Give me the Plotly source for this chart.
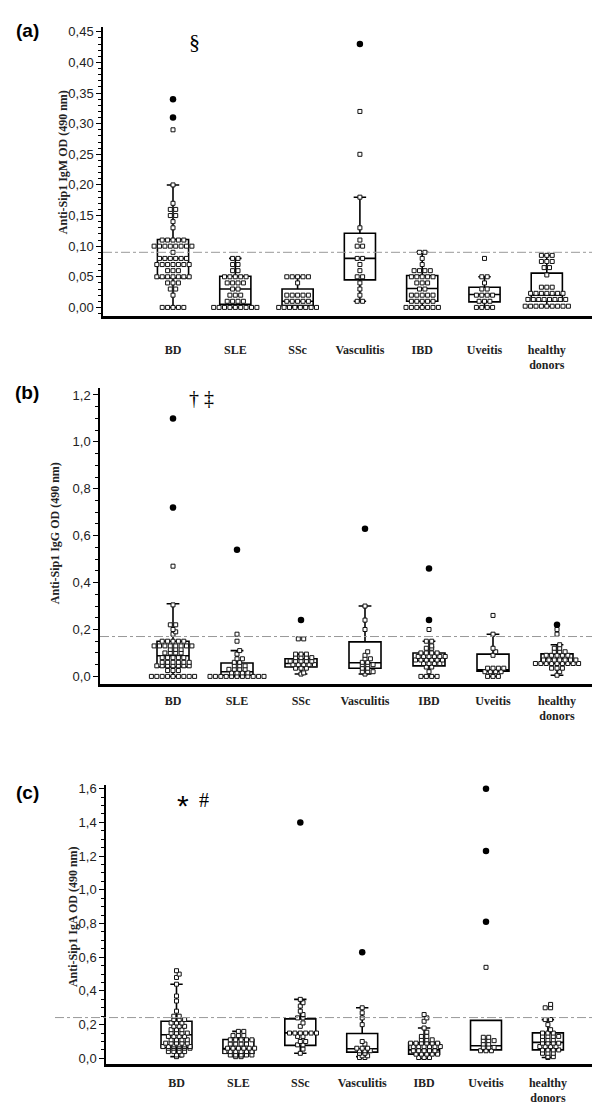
import plotly.graph_objects as go

# ---------------- data ----------------
categories = ["BD", "SLE", "SSc", "Vasculitis", "IBD", "Uveitis", "healthy donors"]
tick_labels = ["BD", "SLE", "SSc", "Vasculitis", "IBD", "Uveitis", "healthy<br>donors"]

# Panel (a) IgM: (value, count) pairs of open squares per group
igm_points = [
    [(0.29, 1), (0.20, 1), (0.17, 1), (0.16, 2), (0.15, 2), (0.14, 1), (0.13, 1), (0.11, 5), (0.10, 8),
     (0.09, 1), (0.08, 6), (0.07, 7), (0.06, 3), (0.05, 7), (0.04, 3), (0.03, 2), (0.02, 1), (0.00, 5)],
    [(0.08, 2), (0.07, 2), (0.06, 2), (0.05, 5), (0.04, 4), (0.03, 2), (0.02, 3), (0.01, 4), (0.00, 9)],
    [(0.05, 5), (0.04, 1), (0.02, 5), (0.01, 5), (0.00, 8)],
    [(0.32, 1), (0.25, 1), (0.18, 1), (0.13, 1), (0.11, 1), (0.10, 2), (0.08, 2), (0.07, 1), (0.06, 1),
     (0.05, 2), (0.04, 1), (0.03, 1), (0.02, 1), (0.01, 2)],
    [(0.09, 2), (0.08, 1), (0.07, 1), (0.06, 4), (0.05, 5), (0.04, 3), (0.03, 2), (0.02, 5), (0.01, 5), (0.00, 7)],
    [(0.08, 1), (0.05, 2), (0.04, 1), (0.03, 2), (0.02, 4), (0.01, 3), (0.00, 4)],
    [(0.085, 3), (0.075, 3), (0.065, 2), (0.053, 1), (0.033, 3), (0.023, 7), (0.013, 8), (0.002, 9)],
]
igm_far = [[0.34, 0.31], [], [], [0.43], [], [], []]
igm_q1 = [0.048, 0.005, 0.003, 0.045, 0.010, 0.009, 0.010]
igm_median = [0.080, 0.030, 0.010, 0.080, 0.031, 0.021, 0.020]
igm_q3 = [0.111, 0.051, 0.030, 0.121, 0.052, 0.033, 0.056]
igm_low = [0.00, 0.00, 0.00, 0.01, 0.00, 0.00, 0.002]
igm_high = [0.20, 0.08, 0.05, 0.18, 0.09, 0.05, 0.085]
igm_cutoff = 0.09

# Panel (b) IgG
igg_points = [
    [(0.47, 1), (0.305, 1), (0.22, 2), (0.20, 1), (0.19, 1), (0.18, 1), (0.15, 5), (0.13, 8), (0.115, 3),
     (0.10, 4), (0.08, 5), (0.06, 6), (0.045, 7), (0.025, 3), (0.0, 9)],
    [(0.18, 1), (0.15, 1), (0.11, 1), (0.095, 1), (0.075, 2), (0.06, 2), (0.045, 3), (0.03, 4), (0.015, 4), (0.0, 11)],
    [(0.16, 2), (0.095, 3), (0.08, 4), (0.065, 5), (0.05, 5), (0.035, 3), (0.015, 1), (0.01, 1)],
    [(0.30, 1), (0.24, 1), (0.20, 1), (0.105, 1), (0.09, 1), (0.075, 2), (0.06, 2), (0.05, 3), (0.035, 2),
     (0.02, 3), (0.01, 1)],
    [(0.20, 1), (0.15, 2), (0.13, 1), (0.12, 2), (0.10, 4), (0.085, 6), (0.07, 6), (0.055, 4), (0.04, 2),
     (0.02, 1), (0.0, 4)],
    [(0.26, 1), (0.18, 1), (0.12, 1), (0.105, 1), (0.09, 1), (0.035, 4), (0.02, 4), (0.0, 3)],
    [(0.20, 1), (0.18, 1), (0.135, 1), (0.12, 2), (0.105, 3), (0.09, 5), (0.07, 7), (0.055, 9), (0.035, 3),
     (0.02, 1), (0.005, 1)],
]
igg_far = [[1.10, 0.72], [0.54], [0.24], [0.63], [0.46, 0.24], [], [0.22]]
igg_q1 = [0.040, 0.005, 0.040, 0.035, 0.045, 0.022, 0.055]
igg_median = [0.088, 0.020, 0.055, 0.058, 0.068, 0.028, 0.075]
igg_q3 = [0.150, 0.057, 0.075, 0.147, 0.100, 0.095, 0.096]
igg_low = [0.00, 0.00, 0.01, 0.01, 0.00, 0.00, 0.005]
igg_high = [0.31, 0.11, 0.095, 0.30, 0.15, 0.18, 0.135]
igg_cutoff = 0.17

# Panel (c) IgA
iga_points = [
    [(0.52, 1), (0.50, 1), (0.48, 1), (0.44, 1), (0.37, 1), (0.34, 1), (0.28, 1), (0.25, 2), (0.23, 3),
     (0.21, 3), (0.19, 3), (0.17, 3), (0.15, 4), (0.13, 4), (0.11, 4), (0.09, 5), (0.08, 3), (0.07, 6),
     (0.06, 5), (0.04, 4), (0.02, 2), (0.01, 1)],
    [(0.16, 2), (0.135, 3), (0.11, 5), (0.085, 4), (0.06, 6), (0.04, 6), (0.02, 5), (0.01, 2)],
    [(0.35, 1), (0.33, 1), (0.31, 1), (0.28, 1), (0.26, 1), (0.24, 2), (0.21, 1), (0.19, 1), (0.15, 6),
     (0.13, 2), (0.10, 2), (0.08, 2), (0.055, 1), (0.03, 1)],
    [(0.30, 1), (0.27, 1), (0.24, 1), (0.20, 1), (0.10, 1), (0.085, 1), (0.06, 3), (0.045, 3), (0.03, 2),
     (0.015, 2), (0.005, 2)],
    [(0.26, 1), (0.24, 1), (0.22, 1), (0.18, 1), (0.155, 1), (0.13, 2), (0.11, 3), (0.09, 6), (0.07, 6),
     (0.045, 5), (0.025, 5), (0.005, 3)],
    [(0.54, 1), (0.125, 2), (0.105, 3), (0.085, 2), (0.065, 3), (0.045, 3)],
    [(0.32, 1), (0.30, 2), (0.23, 2), (0.20, 1), (0.17, 1), (0.15, 3), (0.13, 4), (0.11, 3), (0.09, 4),
     (0.07, 4), (0.05, 4), (0.03, 3), (0.01, 2), (0.005, 1)],
]
iga_far = [[], [], [1.40], [0.63], [], [1.60, 1.23, 0.81], []]
iga_q1 = [0.063, 0.030, 0.077, 0.037, 0.025, 0.050, 0.050]
iga_median = [0.140, 0.058, 0.151, 0.057, 0.050, 0.075, 0.095]
iga_q3 = [0.220, 0.112, 0.234, 0.147, 0.092, 0.225, 0.151]
iga_low = [0.01, 0.01, 0.03, 0.01, 0.00, 0.045, 0.005]
iga_high = [0.44, 0.16, 0.35, 0.30, 0.18, 0.225, 0.23]
iga_cutoff = 0.242

panels = [
    dict(points=igm_points, far=igm_far, q1=igm_q1, med=igm_median, q3=igm_q3, lo=igm_low, hi=igm_high,
         cut=igm_cutoff, title="Anti-Sip1 IgM OD (490 nm)", label="(a)"),
    dict(points=igg_points, far=igg_far, q1=igg_q1, med=igg_median, q3=igg_q3, lo=igg_low, hi=igg_high,
         cut=igg_cutoff, title="Anti-Sip1 IgG OD (490 nm)", label="(b)"),
    dict(points=iga_points, far=iga_far, q1=iga_q1, med=iga_median, q3=iga_q3, lo=iga_low, hi=iga_high,
         cut=iga_cutoff, title="Anti-Sip1 IgA OD (490 nm)", label="(c)"),
]

# ---------------- layout geometry (pixels) ----------------
W, H = 600, 1116
geo = [
    dict(xl=95, xr=587, yt=15, yb=306, yr=[-0.0146, 0.458], dt=0.05, mn=0.01, fmt=".2f", sp=62.3, c0=165,
         standoff=20, ytit_x=55, ytit_y=151, lab_y=19, cut_x0=95),
    dict(xl=92, xr=587, yt=378, yb=676, yr=[-0.034, 1.23], dt=0.2, mn=0.05, fmt=".1f", sp=64.0, c0=165,
         standoff=3, ytit_x=47, ytit_y=524, lab_y=383, cut_x0=92),
    dict(xl=98, xr=587, yt=777, yb=1058, yr=[-0.0354, 1.623], dt=0.2, mn=0.05, fmt=".1f", sp=61.9, c0=168.5,
         standoff=5, ytit_x=65, ytit_y=910, lab_y=785, cut_x0=47),
]

SQ = 5.4  # pixel spacing of the dot-plot squares


def swarm(pairs, center, ppu, dx):
    xs, ys = [], []
    prev_v, prev_shift = None, 0.0
    for v, c in sorted(pairs):
        shift = 0.0
        if prev_v is not None and (v - prev_v) * ppu < 4.6 and prev_shift == 0.0:
            shift = 0.5
        for j in range(c):
            xs.append(center + (j - (c - 1) / 2 + shift) * dx)
            ys.append(v)
        prev_v, prev_shift = v, shift
    return xs, ys


fig = go.Figure()
layout = dict(width=W, height=H, margin=dict(l=0, r=0, t=0, b=0), autosize=False,
              paper_bgcolor="white", plot_bgcolor="white", showlegend=False, separators=",.",
              annotations=[], shapes=[])

for k, (p, g) in enumerate(zip(panels, geo)):
    n = "" if k == 0 else str(k + 1)
    xa, ya = "x" + n, "y" + n
    ppu = (g["yb"] - g["yt"]) / (g["yr"][1] - g["yr"][0])
    xr = [(g["xl"] - g["c0"]) / g["sp"], (g["xr"] - g["c0"]) / g["sp"]]
    dx = SQ / g["sp"]
    idx = list(range(len(categories)))

    fig.add_trace(go.Box(x=idx, q1=p["q1"], median=p["med"], q3=p["q3"], lowerfence=p["lo"],
                         upperfence=p["hi"], width=0.5, whiskerwidth=0.4, boxpoints=False,
                         fillcolor="rgba(0,0,0,0)", line=dict(color="black", width=1.6),
                         xaxis=xa, yaxis=ya, hoverinfo="skip"))
    sx, sy = [], []
    for i, pairs in enumerate(p["points"]):
        a, b = swarm(pairs, i, ppu, dx)
        sx += a
        sy += b
    fig.add_trace(go.Scatter(x=sx, y=sy, mode="markers", xaxis=xa, yaxis=ya, hoverinfo="skip",
                             marker=dict(symbol="square", size=4, color="white",
                                         line=dict(color="#111", width=1))))
    fx, fy = [], []
    for i, vals in enumerate(p["far"]):
        for v in vals:
            fx.append(i)
            fy.append(v)
    fig.add_trace(go.Scatter(x=fx, y=fy, mode="markers", xaxis=xa, yaxis=ya, hoverinfo="skip",
                             marker=dict(symbol="circle", size=6.5, color="black")))

    dom_x = [g["xl"] / W, g["xr"] / W]
    dom_y = [1 - g["yb"] / H, 1 - g["yt"] / H]
    layout["xaxis" + n] = dict(domain=dom_x, range=xr, anchor=ya, showgrid=False, zeroline=False,
                               showline=True, linecolor="black", linewidth=2.6, ticks="",
                               tickmode="array", tickvals=idx, ticktext=["<b>%s</b>" % t for t in tick_labels],
                               ticklabelstandoff=g["standoff"],
                               tickfont=dict(family="Liberation Serif", size=12, color="#222"))
    layout["yaxis" + n] = dict(domain=dom_y, range=g["yr"], anchor=xa, showgrid=False, zeroline=False,
                               showline=True, linecolor="black", linewidth=1.5,
                               tick0=0, dtick=g["dt"], tickformat=g["fmt"], ticks="outside", ticklen=5,
                               tickwidth=1, tickcolor="black",
                               tickfont=dict(family="Liberation Sans", size=13, color="#222"),
                               minor=dict(dtick=g["mn"], ticks="outside", ticklen=3, tickwidth=1,
                                          tickcolor="black"))
    layout["shapes"].append(dict(type="line", xref="paper", yref=ya, x0=g["cut_x0"] / W, x1=g["xr"] / W,
                                 y0=p["cut"], y1=p["cut"], line=dict(color="#999", width=1, dash="dashdot")))
    layout["annotations"].append(dict(text="<b>%s</b>" % p["title"], textangle=-90, xref="paper", yref="paper",
                                      x=g["ytit_x"] / W, y=1 - g["ytit_y"] / H, showarrow=False,
                                      xanchor="center", yanchor="middle",
                                      font=dict(family="Liberation Serif", size=12, color="#222")))
    layout["annotations"].append(dict(text="<b>%s</b>" % p["label"], xref="paper", yref="paper",
                                      x=19 / W, y=1 - g["lab_y"] / H, showarrow=False,
                                      xanchor="center", yanchor="middle",
                                      font=dict(family="Liberation Sans", size=19, color="black")))

# significance marks
marks = [("§", 186, 30, "Liberation Serif", 22), ("† ‡", 193, 388, "Liberation Serif", 20),
         ("*", 175, 798, "Liberation Sans", 30), ("#", 196, 792, "Liberation Serif", 20)]
for t, x, y, fam, sz in marks:
    layout["annotations"].append(dict(text=t, xref="paper", yref="paper", x=x / W, y=1 - y / H,
                                      showarrow=False, xanchor="center", yanchor="middle",
                                      font=dict(family=fam, size=sz, color="black")))

fig.update_layout(**layout)
fig.write_html("out.html")
